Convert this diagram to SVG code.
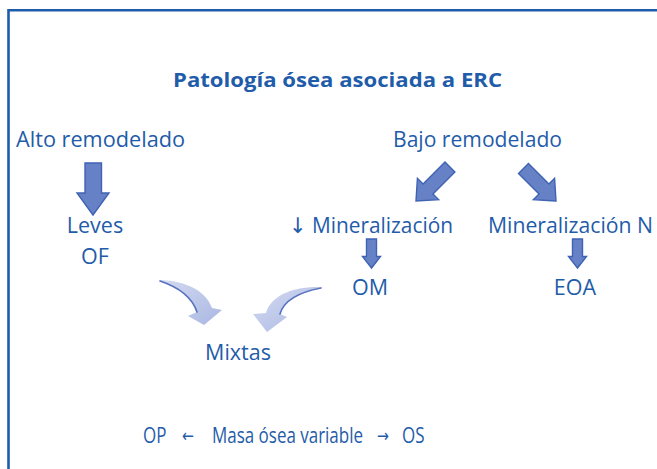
<svg xmlns="http://www.w3.org/2000/svg" width="657" height="469" viewBox="0 0 657 469">
<style>
.t{font-family:"Open Sans","DejaVu Sans",sans-serif;font-size:21.5px;fill:#1f5ca9}
.title{font-family:"Open Sans","DejaVu Sans",sans-serif;font-size:20px;font-weight:bold;fill:#1f5ca9}
.ar{fill:#6781c7;stroke:#3f63b3;stroke-width:1.4;stroke-linejoin:miter}
.cv{fill:url(#g)}
.edge{fill:none;stroke:#5672bf;stroke-width:1.6;stroke-linecap:round}
</style>
<defs>
<linearGradient id="g" x1="0" y1="0" x2="1" y2="1">
<stop offset="0" stop-color="#d3daf1"/>
<stop offset="1" stop-color="#aab7e2"/>
</linearGradient>
</defs>
<rect width="657" height="469" fill="#ffffff"/>
<path d="M8.5,469 V10.3 H657" fill="none" stroke="#1d5cab" stroke-width="2.6"/>
<g id="title"><text class="title" x="173" y="87" textLength="329" lengthAdjust="spacingAndGlyphs">Patología ósea asociada a ERC</text></g>
<g id="alto"><text class="t" x="16" y="147" textLength="169" lengthAdjust="spacingAndGlyphs">Alto remodelado</text></g>
<g id="bajo"><text class="t" x="393" y="147" textLength="169" lengthAdjust="spacingAndGlyphs">Bajo remodelado</text></g>
<g id="leves"><text class="t" x="95" y="233" text-anchor="middle">Leves</text><text class="t" x="95" y="264" text-anchor="middle">OF</text></g>
<g id="minbaja"><text class="t" x="289" y="233" textLength="164" lengthAdjust="spacingAndGlyphs">↓ Mineralización</text></g>
<g id="minN"><text class="t" x="488" y="233" textLength="165" lengthAdjust="spacingAndGlyphs">Mineralización N</text></g>
<g id="om"><text class="t" x="370" y="295" text-anchor="middle">OM</text></g>
<g id="eoa"><text class="t" x="575" y="295" text-anchor="middle">EOA</text></g>
<g id="mixtas"><text class="t" x="238" y="360" text-anchor="middle">Mixtas</text></g>
<g id="masa">
<text class="t" transform="translate(143,443) scale(0.79,1)"><tspan x="0" y="0">OP</tspan><tspan x="49.4" y="-1" style="font-size:18px">←</tspan><tspan x="87.3" y="0">Masa ósea variable</tspan><tspan x="296.2" y="-1" style="font-size:18px">→</tspan><tspan x="327.8" y="0">OS</tspan></text>
</g>
<g id="connectors">
<path class="ar" d="M93,215 L77,193 L85,193 L85,163 L101.5,163 L101.5,193 L109,193 Z"/>
<path class="ar" transform="translate(371.5,268)" d="M0,0 L-9,-11.5 L-5,-11.5 L-5,-29 L5,-29 L5,-11.5 L9,-11.5 Z"/>
<path class="ar" transform="translate(577.5,268)" d="M0,0 L-9,-11.5 L-5,-11.5 L-5,-29 L5,-29 L5,-11.5 L9,-11.5 Z"/>
<path class="ar" transform="translate(416,201) rotate(45)" d="M0,0 L-15,-17 L-7,-17 L-7,-48 L7,-48 L7,-17 L15,-17 Z"/>
<path class="ar" transform="translate(556,201) rotate(-45)" d="M0,0 L-15,-17 L-7,-17 L-7,-46 L7,-46 L7,-17 L15,-17 Z"/>
<path class="cv" d="M158,280 C180,280 205,288 212,308 L222,310 L204,325 L188,316 L197,312 C192,297 178,287 158,280 Z"/>
<path class="edge" d="M197,312 C192,297 178,287 160,281"/>
<path class="cv" d="M323,287 C300,286 272,292 266,313 L253,314 L267,332 L287,317 L280,314 C284,300 300,292 323,287 Z"/>
<path class="edge" d="M280,314 C284,300 300,292 321,288"/>
</g>
</svg>
